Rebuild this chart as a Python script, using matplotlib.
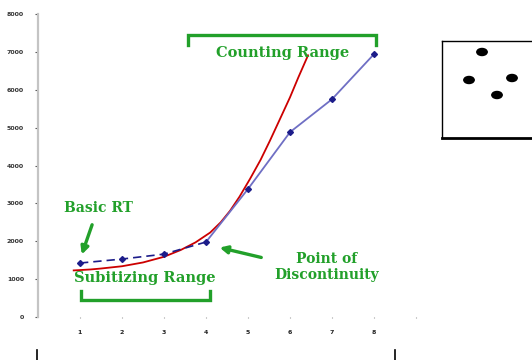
import numpy as np
import matplotlib
matplotlib.use('Agg')
from matplotlib import pyplot as plt
from matplotlib.lines import Line2D
from matplotlib.patches import Circle

# numerosity vs reaction time
n_items = [1, 2, 3, 4, 5, 6, 7, 8]
rt_values = [1425, 1530, 1660, 1980, 3380, 4880, 5750, 6940]

# red fitted curve
fit_x = [0.85, 1.25, 1.5, 2.0, 2.5, 3.0, 3.4, 3.75, 4.1, 4.35, 4.57, 4.8, 5.05,
         5.3, 5.52, 5.75, 6.0, 6.2, 6.43]
fit_y = [1230, 1255, 1280, 1340, 1440, 1590, 1770, 1970, 2230, 2500, 2800, 3180, 3650,
         4150, 4650, 5200, 5800, 6330, 6910]

y_ticks = [0, 1000, 2000, 3000, 4000, 5000, 6000, 7000, 8000]
x_ticks = [1, 2, 3, 4, 5, 6, 7, 8, 9]
x_labels = ['1', '2', '3', '4', '5', '6', '7', '8', '']

GREEN = '#22a02a'
NAVY = '#1c1c8a'
LIGHT_BLUE = '#6f6fc4'
FONT = 'DejaVu Serif'

fig = plt.figure(figsize=(5.32, 3.6), dpi=100)
ax = fig.add_axes([38 / 532, 43 / 360, 378 / 532, 303 / 360])
ax.set_xlim(0, 9)
ax.set_ylim(0, 8000)

# fitted curve
ax.plot(fit_x, fit_y, color='#cc0000', lw=1.3, zorder=2, solid_joinstyle='round')

# data: dashed in subitizing range, solid afterwards
ax.plot(n_items[:4], rt_values[:4], color=NAVY, lw=1.2, ls=(0, (5, 3)), zorder=3)
ax.plot(n_items[3:], rt_values[3:], color=LIGHT_BLUE, lw=1.3, zorder=3)
ax.plot(n_items, rt_values, ls='none', marker='D', ms=3, color=NAVY, zorder=4)

# axes styling
for side in ['top', 'right', 'bottom']:
    ax.spines[side].set_visible(False)
ax.spines['left'].set_color('#c4c4c4')
ax.spines['left'].set_linewidth(1.6)
ax.set_yticks(y_ticks)
ax.set_yticklabels([str(v) for v in y_ticks], fontsize=4.5, fontweight='bold', color='#333333')
ax.set_xticks(x_ticks)
ax.set_xticklabels(x_labels, fontsize=4.5, fontweight='bold', color='#222222')
ax.tick_params(axis='y', length=2, width=0.8, pad=8, color='#555555')
ax.tick_params(axis='x', length=1, width=0.8, pad=8, color='#999999')

# counting range bracket
ax.plot([3.57, 3.57, 8.05, 8.05], [7180, 7440, 7440, 7180], color=GREEN, lw=2.4,
        solid_joinstyle='miter', clip_on=False)
ax.text(5.83, 6965, 'Counting Range', color=GREEN, fontsize=10.5, fontweight='bold',
        family=FONT, ha='center', va='center')

# subitizing range bracket
ax.plot([1.03, 1.03, 4.1, 4.1], [690, 450, 450, 690], color=GREEN, lw=2.4,
        solid_joinstyle='miter', clip_on=False)
ax.text(2.55, 1030, 'Subitizing Range', color=GREEN, fontsize=10.5, fontweight='bold',
        family=FONT, ha='center', va='center')

# annotations with arrows
ax.annotate('', xy=(1.02, 1580), xytext=(1.31, 2505),
            arrowprops=dict(arrowstyle='-|>', color=GREEN, lw=2.4, mutation_scale=11))
ax.text(1.43, 2875, 'Basic RT', color=GREEN, fontsize=10, fontweight='bold',
        family=FONT, ha='center', va='center')

ax.annotate('', xy=(4.26, 1850), xytext=(5.38, 1555),
            arrowprops=dict(arrowstyle='-|>', color=GREEN, lw=2.4, mutation_scale=11))
ax.text(6.88, 1320, 'Point of\nDiscontinuity', color=GREEN, fontsize=10, fontweight='bold',
        family=FONT, ha='center', va='center', linespacing=1.1)

# stimulus box on the right (pixel coords -> figure fraction)
W, H = 532, 360
def fx(px):
    return px / W
def fy(py):
    return 1 - py / H

fig.add_artist(Line2D([fx(442), fx(442)], [fy(41), fy(138)], color='black', lw=1.0))
fig.add_artist(Line2D([fx(442), fx(532)], [fy(41), fy(41)], color='black', lw=1.0))
fig.add_artist(Line2D([fx(442), fx(532)], [fy(138), fy(138)], color='black', lw=2.0))
for cx, cy in [(482, 52), (469, 80), (512, 78), (497, 95)]:
    fig.add_artist(Circle((fx(cx), fy(cy)), 5.2 / W, transform=fig.transFigure,
                          color='black'))

# cut-off box at the bottom
fig.add_artist(Line2D([fx(37), fx(37)], [fy(350), fy(360)], color='black', lw=1.2))
fig.add_artist(Line2D([fx(395), fx(395)], [fy(350), fy(360)], color='black', lw=1.2))

fig.savefig('out.png', dpi=100)
